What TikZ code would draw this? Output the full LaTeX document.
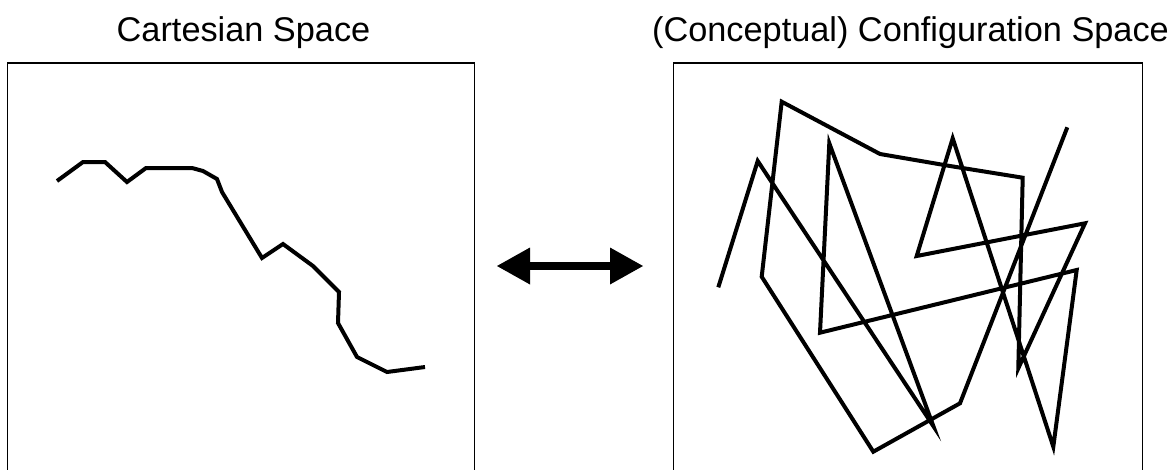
\documentclass[tikz,border=0pt]{standalone}
\usepackage{fontspec}
\setmainfont{Liberation Sans}
\usetikzlibrary{arrows.meta}
\begin{document}
\begin{tikzpicture}[x=1pt,y=-1pt,
  frame/.style={line width=1.6pt},
  trace/.style={line width=4pt,line join=miter,line cap=butt},
  title/.style={font=\fontsize{34.3}{38}\selectfont,anchor=base,inner sep=0pt},
  twoway/.style={line width=8pt,{Triangle[length=33pt,width=37pt,line width=0pt]}-{Triangle[length=33pt,width=37pt,line width=0pt]}}]
\useasboundingbox (0,0) rectangle (1173,469);
% titles
\node[title] (t1) at (243.5,41) {Cartesian Space};
\node[title] (t2) at (910.5,41) {(Conceptual) Configuration Space};
% frames (open at bottom: cut by the picture edge)
\draw[frame] (7.5,470) -- (7.5,63) -- (474.5,63) -- (474.5,470);
\draw[frame] (673.5,470) -- (673.5,63) -- (1142.5,63) -- (1142.5,470);
% cartesian path
\draw[trace] (57,181) -- (83,162) -- (105,162) -- (127,182) -- (146,168) -- (192,168)
  -- (203,171) -- (217,179) -- (222,192) -- (262,258) -- (283,244) -- (313,266)
  -- (339,292) -- (338,323) -- (357,357) -- (387,372) -- (425,367);
% configuration space path
\draw[trace] (718.3,287.3) -- (757.7,161) -- (933.3,426) -- (829.3,143.3) -- (820,332.7)
  -- (1076.7,270) -- (1053.3,446.7) -- (952.7,138.3) -- (916.7,256) -- (1085,223.3)
  -- (1018.3,368.3) -- (1022.7,177.7) -- (950,166) -- (880,154) -- (781.7,101.7)
  -- (761.7,276.7) -- (873.3,451.7) -- (960,403.3) -- (1067.3,127.3);
% double arrow
\coordinate (la) at (497,266);
\coordinate (ra) at (643,266);
\draw[twoway] (la) -- (ra);
\end{tikzpicture}
\end{document}
